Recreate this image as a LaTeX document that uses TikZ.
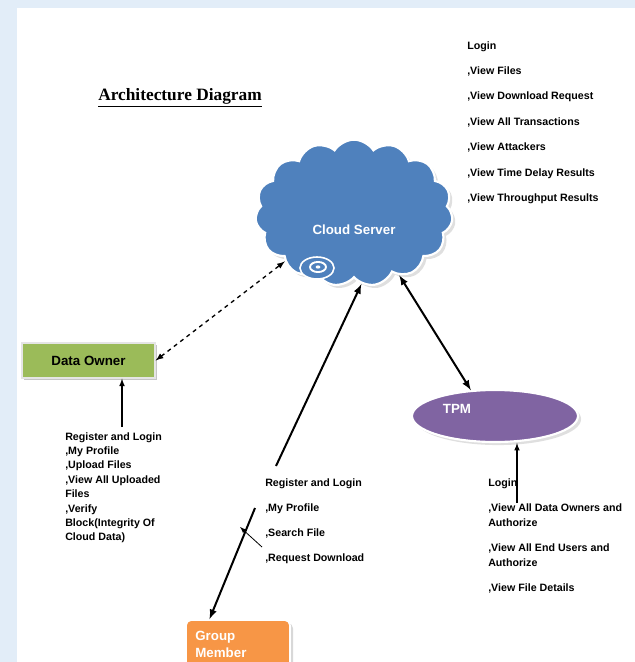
\documentclass[tikz,border=0pt]{standalone}
\usepackage{fontspec}
\setmainfont{Liberation Serif}
\setsansfont{Liberation Sans}
\usepackage{xcolor}
\usetikzlibrary{positioning, shapes.geometric, shapes.symbols, arrows, shadows}
\definecolor{cloudblue}{RGB}{79,129,189}
\definecolor{ownergreen}{RGB}{155,187,89}
\definecolor{tpmpurple}{RGB}{128,100,162}
\definecolor{memberorange}{RGB}{247,150,70}
\definecolor{pagetint}{RGB}{226,237,248}
\tikzset{
    server/.style={cloud, cloud puffs=15, cloud puff arc=115, cloud ignores aspect, minimum width=148pt, minimum height=110pt, fill=cloudblue, draw=white, line width=1.6pt, drop shadow={opacity=0.25}},
    owner/.style={rectangle, fill=ownergreen, draw=white!80!gray, line width=1pt, minimum width=99.75pt, minimum height=26.25pt, font=\sffamily\bfseries\fontsize{10}{12}\selectfont, drop shadow={opacity=0.45, shadow xshift=1.5pt, shadow yshift=-1.5pt}},
    tpm/.style={ellipse, fill=tpmpurple, draw=white, line width=1.6pt, minimum width=124.5pt, minimum height=39pt, drop shadow={opacity=0.25}},
    member/.style={rectangle, rounded corners=4pt, fill=memberorange, draw=white, line width=1.2pt, minimum width=78pt, minimum height=36pt, text width=64pt, align=left, text=white, font=\sffamily\bfseries\fontsize{10}{12.75}\selectfont, drop shadow={opacity=0.3}},
    ops/.style={align=left, inner sep=0pt, anchor=north west, font=\sffamily\bfseries\fontsize{8}{#1}\selectfont},
    ops/.default=10.8,
    link/.style={line width=1.5pt, -latex},
}

\begin{document}
\begin{tikzpicture}[x=0.75pt, y=-0.75pt]
    \useasboundingbox (0,0) rectangle (635,662);
    \fill[pagetint] (0,0) rectangle (635,662);
    \fill[white] (17,8) rectangle (635,662);

    \node [font=\rmfamily\bfseries\fontsize{13}{15}\selectfont] (title) at (180,98) {\underline{Architecture Diagram}};
    \node [ops=19.1] (adminops) at (467,41) {Login\\,View Files\\,View Download Request\\,View All Transactions\\,View Attackers\\,View Time Delay Results\\,View Throughput Results};

    \node [server, label={[text=white, font=\sffamily\bfseries\fontsize{10}{12}\selectfont, yshift=-12.75pt]center:Cloud Server}] (cloud) at (354,213) {};
    \filldraw [fill=cloudblue, draw=white, line width=1.2pt] (317,268) ellipse [x radius=12.75pt, y radius=8.25pt];
    \draw [white, line width=1.4pt] (318,267) ellipse [x radius=6pt, y radius=3.8pt];
    \fill [white] (318,267) ellipse [x radius=1.8pt, y radius=1.2pt];

    \node [owner] (own) at (88.5,360.5) {Data Owner};
    \node [ops] (ownops) at (65,432) {Register and Login\\,My Profile\\,Upload Files\\,View All Uploaded\\Files\\,Verify\\Block(Integrity Of\\Cloud Data)};

    \node [tpm, label={[text=white, font=\sffamily\bfseries\fontsize{10}{12}\selectfont, xshift=-28.5pt, yshift=5.25pt]center:TPM}] (tpm) at (495,416) {};
    \node [ops=11.25] (tpmops) at (488,478) {Login\\[7.5pt],View All Data Owners and\\Authorize\\[7.5pt],View All End Users and\\Authorize\\[7.5pt],View File Details};

    \node [member] (grp) at (238,644) {Group\\Member};
    \node [ops=18.75] (grpops) at (265,478) {Register and Login\\,My Profile\\,Search File\\,Request Download};

    \coordinate (ownlow) at (122,427);
    \coordinate (tpmlow) at (517,503);
    \coordinate (grpup) at (276,466);
    \coordinate (grpdown) at (255,508);
    \coordinate (ticka) at (262,547);
    \coordinate (tickb) at (240,527);

    \draw [latex-latex, dashed, line width=1pt] (own.east) -- (cloud.215);
    \draw [link] (grpup) -- (cloud.276);
    \draw [link] (grpdown) -- (grp.139);
    \draw [-latex, line width=0.6pt] (ticka) -- (tickb);
    \draw [link, latex-latex] (cloud.306) -- (tpm.133);
    \draw [-latex, line width=0.9pt] (ownlow) -- (ownlow |- own.south);
    \draw [-latex, line width=0.9pt] (tpmlow) -- (tpmlow |- tpm.south);
\end{tikzpicture}
\end{document}
